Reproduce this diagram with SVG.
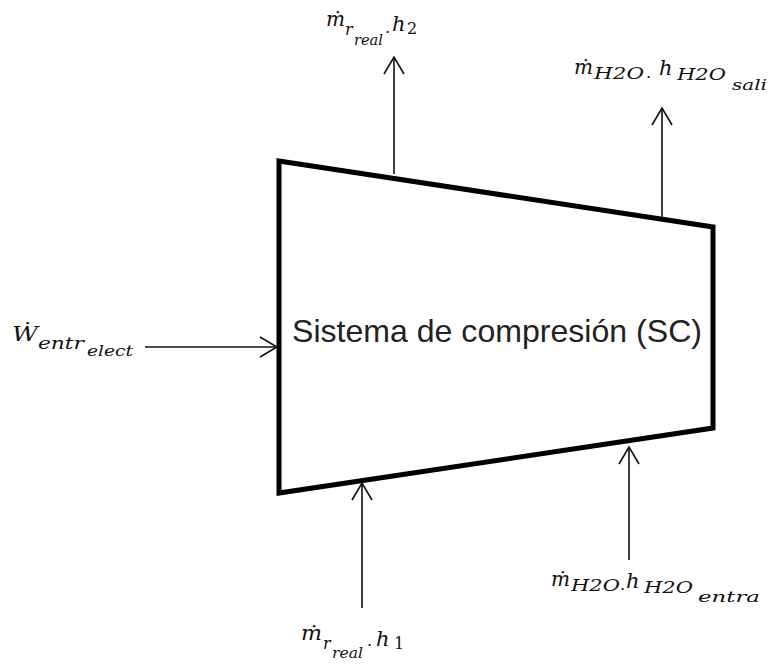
<svg xmlns="http://www.w3.org/2000/svg" width="770" height="666" viewBox="0 0 770 666">
<style>
.m{font-family:"DejaVu Serif","Liberation Serif",serif;font-style:italic;fill:#111}
.b{font-size:21px}
.s{font-size:16px}
.ss{font-size:14px}
.up{font-style:normal}
.box{fill:#fff;stroke:#000;stroke-width:5;stroke-linejoin:miter}
.lbl{font-family:"Liberation Sans",Arial,sans-serif;font-size:32px;fill:#222}
.c{stroke:#111;stroke-width:1.6;fill:none;marker-end:url(#ah)}
</style>
<defs>
<marker id="ah" markerUnits="userSpaceOnUse" markerWidth="30" markerHeight="30" viewBox="-20 -15 25 30" refX="0" refY="0" orient="auto">
<path d="M-17,-10 L0,0 L-17,10" fill="none" stroke="#111" stroke-width="1.6"/>
</marker>
</defs>
<rect width="770" height="666" fill="#fff"/>
<g id="sistema">
<polygon class="box" points="279,161 713,227 713,428 279,493"/>
<text class="lbl" x="497" y="342" text-anchor="middle" textLength="410" lengthAdjust="spacingAndGlyphs">Sistema de compresión (SC)</text>
</g>
<g id="connectors">
<line class="c" x1="394" y1="174" x2="394" y2="57"/>
<line class="c" x1="662" y1="217" x2="662" y2="108"/>
<line class="c" x1="145" y1="347" x2="277" y2="347"/>
<line class="c" x1="362" y1="608" x2="362" y2="483"/>
<line class="c" x1="629" y1="560" x2="629" y2="447"/>
</g>
<g id="label-out-refrig">
<text class="m"><tspan class="b" x="326" y="26" textLength="19" lengthAdjust="spacingAndGlyphs">ṁ</tspan><tspan class="s" x="345" y="35">r</tspan><tspan class="ss" x="354" y="45" textLength="29" lengthAdjust="spacingAndGlyphs">real</tspan><tspan class="s" x="385" y="33">.</tspan><tspan class="b" x="392" y="31">h</tspan><tspan class="s up" x="407" y="34">2</tspan></text>
</g>
<g id="label-out-water">
<text class="m"><tspan class="b" x="574" y="74" textLength="19" lengthAdjust="spacingAndGlyphs">ṁ</tspan><tspan class="s" x="594" y="79" textLength="50" lengthAdjust="spacingAndGlyphs">H2O</tspan><tspan class="s" x="646" y="78">.</tspan><tspan class="b" x="659" y="75">h</tspan><tspan class="s" x="677" y="80" textLength="49" lengthAdjust="spacingAndGlyphs">H2O</tspan><tspan class="ss" x="732" y="90" textLength="35" lengthAdjust="spacingAndGlyphs">sali</tspan></text>
</g>
<g id="label-in-power">
<text class="m"><tspan class="b" x="12" y="341" textLength="26" lengthAdjust="spacingAndGlyphs">Ẇ</tspan><tspan class="s" x="38" y="349" textLength="46" lengthAdjust="spacingAndGlyphs">entr</tspan><tspan class="ss" x="87" y="356" textLength="46" lengthAdjust="spacingAndGlyphs">elect</tspan></text>
</g>
<g id="label-in-water">
<text class="m"><tspan class="b" x="551" y="586" textLength="19" lengthAdjust="spacingAndGlyphs">ṁ</tspan><tspan class="s" x="571" y="591" textLength="49" lengthAdjust="spacingAndGlyphs">H2O</tspan><tspan class="s" x="620" y="590">.</tspan><tspan class="b" x="626" y="588">h</tspan><tspan class="s" x="644" y="593" textLength="49" lengthAdjust="spacingAndGlyphs">H2O</tspan><tspan class="ss" x="698" y="602" textLength="62" lengthAdjust="spacingAndGlyphs">entra</tspan></text>
</g>
<g id="label-in-refrig">
<text class="m"><tspan class="b" x="301" y="640" textLength="21" lengthAdjust="spacingAndGlyphs">ṁ</tspan><tspan class="s" x="323" y="649">r</tspan><tspan class="ss" x="332" y="658" textLength="31" lengthAdjust="spacingAndGlyphs">real</tspan><tspan class="s" x="367" y="646">.</tspan><tspan class="b" x="376" y="646">h</tspan><tspan class="s up" x="394" y="649">1</tspan></text>
</g>
</svg>
